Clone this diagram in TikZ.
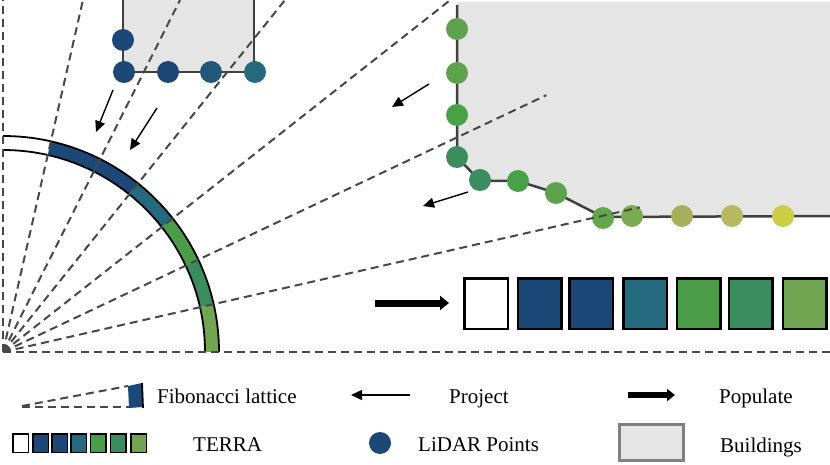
\documentclass[tikz,border=0pt]{standalone}
\usepackage{fontspec}
\setmainfont{Liberation Serif}
\usetikzlibrary{arrows.meta}
\definecolor{cblue}{HTML}{1C4878}
\definecolor{cteal}{HTML}{25697E}
\definecolor{cgreen}{HTML}{4A9C47}
\definecolor{csea}{HTML}{3B8C5F}
\definecolor{clgreen}{HTML}{72A552}
\definecolor{bgray}{HTML}{E5E5E5}
\definecolor{dgray}{HTML}{484848}
\definecolor{edgegray}{HTML}{404040}
\definecolor{pA}{HTML}{5FA24E}
\definecolor{pB}{HTML}{48A047}
\definecolor{pC}{HTML}{63A64C}
\definecolor{pD}{HTML}{7AAB50}
\definecolor{pE}{HTML}{A6B05C}
\definecolor{pF}{HTML}{B9B862}
\definecolor{pG}{HTML}{CCCC48}
\definecolor{pH}{HTML}{22577A}
\begin{document}
\begin{tikzpicture}[x=1pt,y=-1pt,
  ray/.style={draw=dgray,line width=2pt,dash pattern=on 8pt off 5pt},
  bedge/.style={draw=edgegray,line width=2.5pt},
  lidar/.style={circle,minimum size=22pt,inner sep=0pt,draw=none},
  proj/.style={line width=1.4pt,-{Triangle[length=11pt,width=10pt]}},
  popul/.style={line width=7pt,-{Triangle[length=9pt,width=14pt]}},
  terracell/.style={draw=black,line width=2.5pt,minimum width=43.5pt,minimum height=50.5pt,inner sep=0pt},
  terrasmall/.style={draw=black,line width=1.5pt,minimum width=15.5pt,minimum height=18.5pt,inner sep=0pt},
  lab/.style={anchor=base west,inner sep=0pt,font=\fontsize{21}{25}\selectfont}]
\useasboundingbox (0,0) rectangle (830,465);
\fill[white] (0,0) rectangle (830,465);

% buildings
\fill[bgray] (123,0) rectangle (254,72);
\draw[bedge] (123,0) -- (123,72) -- (254,72) -- (254,0);
\fill[bgray] (457,2) -- (457,157) -- (480,181) -- (518,181) -- (556,193) -- (603,217) -- (830,216) -- (830,2) -- cycle;
\draw[bedge] (457,5) -- (457,157) -- (480,181) -- (518,181) -- (556,193) -- (603,217) -- (830,216);

% fan
\begin{scope}[shift={(3,352)},y=1pt]
  \coordinate (o) at (0,0);
  \foreach \a/\b/\c in {77.2/90/white, 63.3/77.2/cblue, 51.3/63.3/cblue, 38.2/51.3/cteal, 25.3/38.2/cgreen, 12.8/25.3/csea, 0/12.8/clgreen}
    \fill[\c] (\a:202) arc[start angle=\a, end angle=\b, radius=202] -- (\b:216) arc[start angle=\b, end angle=\a, radius=216] -- cycle;
  \draw[line width=1.8pt] (0:216) arc[start angle=0, end angle=90, radius=216];
  \draw[line width=1.8pt] (0:202) arc[start angle=0, end angle=90, radius=202];
\end{scope}

% LiDAR points, building 1
\node[lidar,fill=cblue] (b1) at (123,40) {};
\node[lidar,fill=cblue] (b2) at (124,72) {};
\node[lidar,fill=cblue] (b3) at (168,72) {};
\node[lidar,fill=pH] (b4) at (211,72) {};
\node[lidar,fill=cteal] (b5) at (255,72) {};
% LiDAR points, building 2
\node[lidar,fill=pA] (c1) at (457,29) {};
\node[lidar,fill=pA] (c2) at (457,73) {};
\node[lidar,fill=pB] (c3) at (457,115) {};
\node[lidar,fill=csea] (c4) at (457,157) {};
\node[lidar,fill=csea] (c5) at (480,180) {};
\node[lidar,fill=pB] (c6) at (518,181) {};
\node[lidar,fill=pA] (c7) at (556,193) {};
\node[lidar,fill=pC] (c8) at (603,218) {};
\node[lidar,fill=pD] (c9) at (632,216) {};
\node[lidar,fill=pE] (c10) at (682,216) {};
\node[lidar,fill=pF] (c11) at (732,216) {};
\node[lidar,fill=pG] (c12) at (783,216) {};

% rays
\begin{scope}[shift={(3,352)},y=1pt]
  \foreach \a/\r [count=\i] in {0/827, 12.8/653, 25.3/601, 38.2/569, 51.3/451, 63.3/394, 77.2/361, 90/352}{
    \coordinate (r\i) at (\a:\r);
    \draw[ray] (o) -- (r\i);
  }
  \fill[dgray] (0,0) -- (8,0) arc[start angle=0, end angle=90, radius=8] -- cycle;
\end{scope}

% project arrows
\coordinate (a1s) at (113,90);  \coordinate (a1e) at (96,132);
\coordinate (a2s) at (157,108); \coordinate (a2e) at (130,150);
\coordinate (a3s) at (429,84);  \coordinate (a3e) at (392,107);
\coordinate (a4s) at (468,192); \coordinate (a4e) at (423,206);
\draw[proj] (a1s) -- (a1e);
\draw[proj] (a2s) -- (a2e);
\draw[proj] (a3s) -- (a3e);
\draw[proj] (a4s) -- (a4e);

% populate arrow and TERRA
\coordinate (ps) at (375,303); \coordinate (pe) at (449,303);
\draw[popul] (ps) -- (pe);
\foreach \x/\c [count=\i] in {486/white, 539.5/cblue, 591/cblue, 645/cteal, 698.5/cgreen, 750.5/csea, 804.5/clgreen}
  \node[terracell,fill=\c] (t\i) at (\x,303.5) {};

% legend
\draw[ray] (22,407) -- (129,407);
\draw[ray] (22,406) -- (128,386);
\fill[cblue] (128,386) -- (142,383) -- (143,407) -- (129,408) -- cycle;
\draw[line width=1.8pt] (142,383) -- (143,408);
\node[lab] (lfib) at (157,403) {Fibonacci lattice};

\coordinate (lps) at (410,395); \coordinate (lpe) at (351,395);
\draw[proj] (lps) -- (lpe);
\node[lab] (lproj) at (449,403) {Project};

\coordinate (lus) at (628,395); \coordinate (lue) at (675,395);
\draw[line width=6pt,-{Triangle[length=8pt,width=12pt]}] (lus) -- (lue);
\node[lab] (lpop) at (719,403) {Populate};

\foreach \x/\c [count=\i] in {20.5/white, 40.5/cblue, 59.5/cblue, 78.5/cteal, 98/cgreen, 118/csea, 138.5/clgreen}
  \node[terrasmall,fill=\c] (s\i) at (\x,443) {};
\node[lab] (lterra) at (193,451) {TERRA};

\node[lidar,fill=cblue] (llid) at (380,443) {};
\node[lab] (llidar) at (418,451) {LiDAR Points};

\node[draw=gray,line width=2.5pt,fill=bgray,minimum width=64pt,minimum height=36pt,inner sep=0pt] (lbld) at (651.5,442.5) {};
\node[lab] (lbuild) at (720,452) {Buildings};
\end{tikzpicture}
\end{document}
